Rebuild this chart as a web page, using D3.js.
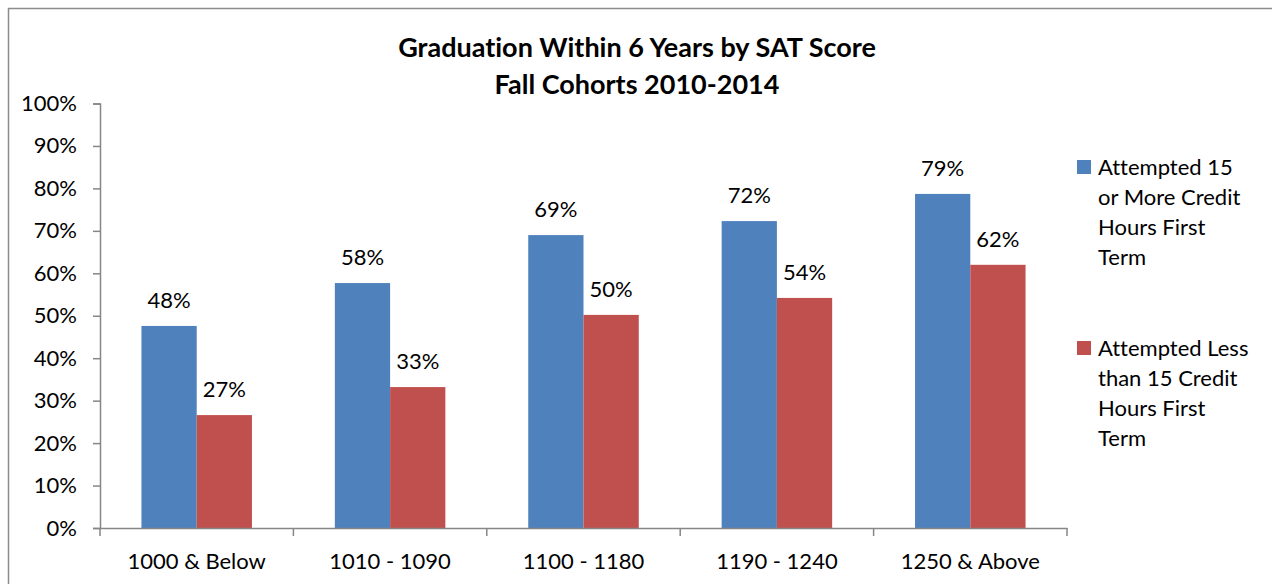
<!DOCTYPE html>
<html>
<head>
<meta charset="utf-8">
<script src="https://cdn.jsdelivr.net/npm/d3@7"></script>
<style>
  body { margin: 0; background: #fff; }
  text { font-family: Lato, "Open Sans", sans-serif; fill: #000; font-variant-ligatures: none; }
</style>
</head>
<body>
<svg class="chart" width="1272" height="584"></svg>
<script>
// chart data
var categories = ["1000 & Below", "1010 - 1090", "1100 - 1180", "1190 - 1240", "1250 & Above"];
var seriesNames = ["Attempted 15 or More Credit Hours First Term", "Attempted Less than 15 Credit Hours First Term"];
var moreCredits = [0.476, 0.577, 0.690, 0.723, 0.787];
var lessCredits = [0.266, 0.332, 0.502, 0.542, 0.620];
var yTicks = [0, 0.1, 0.2, 0.3, 0.4, 0.5, 0.6, 0.7, 0.8, 0.9, 1.0];
var legendLines = [
  ["Attempted 15", "or More Credit", "Hours First", "Term"],
  ["Attempted Less", "than 15 Credit", "Hours First", "Term"]
];
var titleLines = ["Graduation Within 6 Years by SAT Score", "Fall Cohorts 2010-2014"];

var colors = ["#4F81BD", "#C0504D"];
var axisColor = "#868686";

// plot area
var margin = {top: 103.5, bottom: 56, left: 100, right: 205},
  width = 1272 - margin.left - margin.right,
  height = 584 - margin.top - margin.bottom;

var svg = d3.select(".chart");

// outer chart border
svg.append("rect")
  .attr("x", 8.5)
  .attr("y", 8.5)
  .attr("width", 1300)
  .attr("height", 700)
  .attr("fill", "none")
  .attr("stroke", "#8c8c8c")
  .attr("stroke-width", 1.5);

// title
svg.selectAll(".title")
  .data(titleLines)
  .enter().append("text")
    .attr("class", "title")
    .attr("x", 637)
    .attr("y", function(d, i) { return 57 + i * 37; })
    .style("text-anchor", "middle")
    .style("font-weight", "bold")
    .style("font-size", "27px")
    .text(function(d) { return d; });

var g = svg.append("g")
  .attr("transform", "translate(" + margin.left + "," + margin.top + ")");

// scales
var x0 = d3.scaleBand()
  .domain(categories)
  .range([0, width])
  .padding(0);

var x1 = d3.scaleBand()
  .domain([0, 1])
  .range([0, x0.bandwidth()])
  .paddingInner(0)
  .paddingOuter(0.75);

var y = d3.scaleLinear()
  .domain([0, 1])
  .range([height, 0]);

// bars
var rows = categories.map(function(c, i) {
  return {cat: c, values: [moreCredits[i], lessCredits[i]]};
});

var groups = g.selectAll(".group")
  .data(rows)
  .enter().append("g")
    .attr("class", "group")
    .attr("transform", function(d) { return "translate(" + x0(d.cat) + ",0)"; });

groups.selectAll("rect")
  .data(function(d) { return d.values.map(function(v, s) { return {v: v, s: s}; }); })
  .enter().append("rect")
    .attr("x", function(d) { return x1(d.s); })
    .attr("y", function(d) { return y(d.v); })
    .attr("width", x1.bandwidth())
    .attr("height", function(d) { return height - y(d.v); })
    .attr("fill", function(d) { return colors[d.s]; });

// value labels
groups.selectAll(".value")
  .data(function(d) { return d.values.map(function(v, s) { return {v: v, s: s}; }); })
  .enter().append("text")
    .attr("class", "value")
    .attr("x", function(d) { return x1(d.s) + x1.bandwidth() / 2; })
    .attr("y", function(d) { return y(d.v) - 18; })
    .style("text-anchor", "middle")
    .style("font-size", "22px")
    .text(function(d) { return Math.round(d.v * 100) + "%"; });

// y axis
var yAxis = d3.axisLeft(y)
  .tickValues(yTicks)
  .tickFormat(d3.format(".0%"))
  .tickSize(7)
  .tickPadding(16);

var yG = g.append("g").attr("class", "y axis").call(yAxis);

// x axis
var xAxis = d3.axisBottom(x0)
  .tickSize(0)
  .tickPadding(25);

var xG = g.append("g")
  .attr("class", "x axis")
  .attr("transform", "translate(0," + height + ")")
  .call(xAxis);

// x ticks at category boundaries
xG.selectAll(".boundary")
  .data(d3.range(categories.length + 1))
  .enter().append("line")
    .attr("class", "boundary")
    .attr("x1", function(i) { return i * x0.step(); })
    .attr("x2", function(i) { return i * x0.step(); })
    .attr("y1", 0)
    .attr("y2", 8)
    .attr("stroke", axisColor)
    .attr("stroke-width", 1.5);

[yG, xG].forEach(function(ax) {
  ax.select(".domain").attr("stroke", axisColor).attr("stroke-width", 1.5);
  ax.selectAll(".tick line").attr("stroke", axisColor).attr("stroke-width", 1.5);
  ax.selectAll(".tick text")
    .style("font-family", "Lato, 'Open Sans', sans-serif")
    .style("font-size", "22px")
    .attr("fill", "#000");
});
xG.selectAll(".tick text").attr("dy", "0.71em");

// legend
var legend = svg.selectAll(".legend")
  .data(seriesNames)
  .enter().append("g")
    .attr("class", "legend")
    .attr("transform", function(d, i) { return "translate(1077," + (160 + i * 181) + ")"; });

legend.append("rect")
  .attr("width", 14)
  .attr("height", 14)
  .attr("fill", function(d, i) { return colors[i]; });

legend.each(function(d, i) {
  d3.select(this).selectAll("text")
    .data(legendLines[i])
    .enter().append("text")
      .attr("x", 21)
      .attr("y", function(t, k) { return 15 + k * 30; })
      .style("font-size", "22px")
      .text(function(t) { return t; });
});
</script>
</body>
</html>
